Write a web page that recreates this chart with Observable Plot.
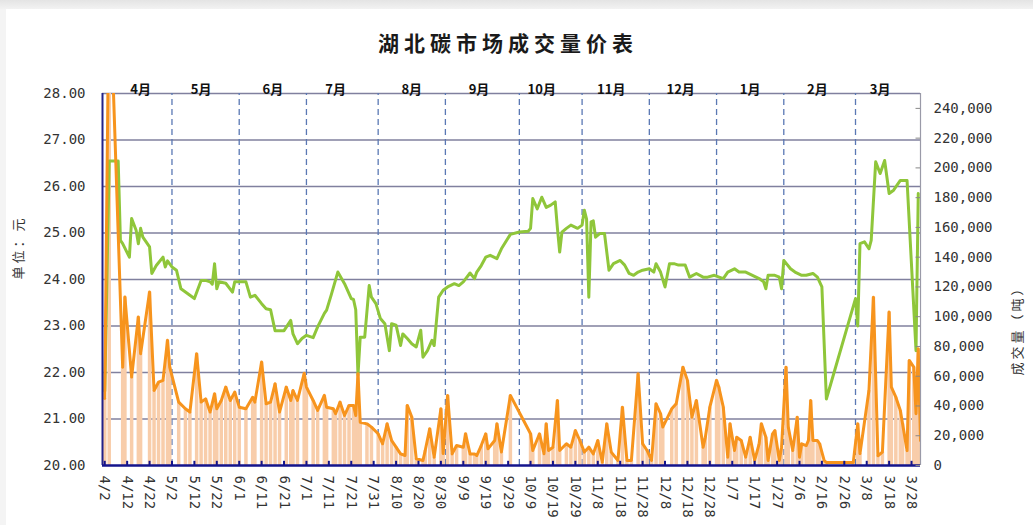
<!DOCTYPE html>
<html>
<head>
<meta charset="utf-8">
<script src="https://cdn.jsdelivr.net/npm/d3@7"></script>
<script src="https://cdn.jsdelivr.net/npm/@observablehq/plot@0.6"></script>
<style>
  html, body { margin: 0; padding: 0; background: #fff; }
  #page { position: relative; width: 1033px; height: 525px; overflow: hidden; background: #fff; }
  #topbar { position: absolute; left: 0; top: 0; width: 1033px; height: 9px; background: linear-gradient(#e4e4e4, #f2f2f2); }
  #leftbar { position: absolute; left: 0; top: 9px; width: 6px; height: 516px; background: #f4f4f4; }
  #chart { position: absolute; left: 0; top: 0; }
  #title { position: absolute; left: 0; top: 27px; width: 1016px; text-align: center; line-height: 30px;
           font-family: "Noto Sans CJK SC", sans-serif; font-weight: 700; font-size: 21px; letter-spacing: 5px; color: #1a1a1a; }
</style>
</head>
<body>
<div id="page">
  <div id="topbar"></div>
  <div id="leftbar"></div>
  <div id="chart"></div>
  <div id="title">湖北碳市场成交量价表</div>
</div>
<script>
// Daily closing price (元) of Hubei carbon allowances
const priceDates = [
  "2014-04-02","2014-04-04","2014-04-08","2014-04-09","2014-04-10","2014-04-13","2014-04-14","2014-04-16","2014-04-17","2014-04-18",
  "2014-04-19","2014-04-22","2014-04-23","2014-04-25","2014-04-28","2014-04-29","2014-04-30","2014-05-02","2014-05-04","2014-05-06",
  "2014-05-08","2014-05-12","2014-05-15","2014-05-17","2014-05-19","2014-05-20","2014-05-21","2014-05-22","2014-05-23","2014-05-26",
  "2014-05-29","2014-05-30","2014-06-04","2014-06-06","2014-06-08","2014-06-11","2014-06-13","2014-06-15","2014-06-17","2014-06-21",
  "2014-06-24","2014-06-25","2014-06-27","2014-06-29","2014-07-01","2014-07-04","2014-07-06","2014-07-09","2014-07-10","2014-07-12",
  "2014-07-15","2014-07-18","2014-07-21","2014-07-22","2014-07-23","2014-07-24","2014-07-25","2014-07-27","2014-07-29","2014-07-30",
  "2014-08-01","2014-08-03","2014-08-05","2014-08-07","2014-08-08","2014-08-10","2014-08-12","2014-08-13","2014-08-15","2014-08-17",
  "2014-08-19","2014-08-21","2014-08-22","2014-08-24","2014-08-26","2014-08-27","2014-08-29","2014-08-31","2014-09-02","2014-09-05",
  "2014-09-07","2014-09-09","2014-09-12","2014-09-14","2014-09-15","2014-09-17","2014-09-19","2014-09-21","2014-09-24","2014-09-26",
  "2014-09-30","2014-10-04","2014-10-08","2014-10-09","2014-10-10","2014-10-12","2014-10-14","2014-10-16","2014-10-18","2014-10-20",
  "2014-10-21","2014-10-22","2014-10-23","2014-10-25","2014-10-27","2014-10-30","2014-11-01","2014-11-02","2014-11-03","2014-11-04",
  "2014-11-05","2014-11-06","2014-11-07","2014-11-09","2014-11-11","2014-11-13","2014-11-15","2014-11-18","2014-11-20","2014-11-22",
  "2014-11-24","2014-11-26","2014-11-28","2014-12-01","2014-12-03","2014-12-04","2014-12-06","2014-12-08","2014-12-10","2014-12-12",
  "2014-12-14","2014-12-17","2014-12-19","2014-12-22","2014-12-25","2014-12-27","2014-12-30","2015-01-03","2015-01-05","2015-01-08",
  "2015-01-10","2015-01-13","2015-01-16","2015-01-19","2015-01-21","2015-01-22","2015-01-23","2015-01-26","2015-01-28","2015-01-29",
  "2015-01-30","2015-02-02","2015-02-04","2015-02-07","2015-02-09","2015-02-12","2015-02-14","2015-02-16","2015-02-18","2015-03-03",
  "2015-03-04","2015-03-05","2015-03-07","2015-03-09","2015-03-10","2015-03-12","2015-03-14","2015-03-16","2015-03-18","2015-03-20",
  "2015-03-23","2015-03-26","2015-03-30","2015-03-31"
];
const prices = [
  21.60,26.55,26.55,24.84,24.77,24.48,25.31,25.06,24.77,25.10,
  24.91,24.70,24.13,24.30,24.48,24.27,24.40,24.27,24.20,23.80,
  23.73,23.59,23.98,23.98,23.95,23.90,24.34,23.80,23.95,23.92,
  23.73,23.95,23.95,23.62,23.66,23.48,23.37,23.35,22.90,22.90,
  23.12,22.83,22.62,22.73,22.80,22.75,22.98,23.27,23.34,23.66,
  24.16,23.91,23.59,23.57,23.35,21.95,22.76,22.76,23.87,23.62,
  23.48,23.16,23.05,22.47,23.05,23.02,22.58,22.83,22.73,22.62,
  22.55,22.91,22.33,22.47,22.69,22.58,23.62,23.77,23.84,23.91,
  23.87,23.95,24.14,24.02,24.16,24.30,24.48,24.52,24.45,24.66,
  24.97,25.02,25.04,25.10,25.74,25.52,25.77,25.55,25.60,25.67,
  25.10,24.59,25.02,25.10,25.17,25.10,25.17,25.49,25.30,23.62,
  25.24,25.26,24.91,24.99,24.99,24.20,24.34,24.41,24.31,24.13,
  24.09,24.16,24.20,24.23,24.16,24.34,24.16,23.84,24.34,24.34,
  24.31,24.31,24.05,24.13,24.05,24.05,24.09,24.02,24.16,24.23,
  24.16,24.16,24.09,24.02,23.95,23.80,24.09,24.09,24.05,23.80,
  24.41,24.23,24.16,24.09,24.09,24.13,24.05,23.84,21.43,23.59,
  23.00,24.77,24.81,24.66,24.84,26.53,26.28,26.56,25.85,25.92,
  26.13,26.13,22.47,25.85
];

// Daily traded volume (吨)
const volumeDates = [
  "2014-04-02","2014-04-04","2014-04-10","2014-04-11","2014-04-14","2014-04-17","2014-04-18","2014-04-22","2014-04-24","2014-04-26",
  "2014-04-28","2014-04-30","2014-05-01","2014-05-05","2014-05-08","2014-05-10","2014-05-13","2014-05-15","2014-05-17","2014-05-19",
  "2014-05-21","2014-05-22","2014-05-24","2014-05-26","2014-05-28","2014-05-30","2014-06-01","2014-06-04","2014-06-07","2014-06-08",
  "2014-06-11","2014-06-13","2014-06-15","2014-06-17","2014-06-19","2014-06-22","2014-06-24","2014-06-25","2014-06-27","2014-06-30",
  "2014-07-01","2014-07-04","2014-07-06","2014-07-09","2014-07-10","2014-07-13","2014-07-14","2014-07-16","2014-07-18","2014-07-20",
  "2014-07-22","2014-07-23","2014-07-24","2014-07-25","2014-07-28","2014-07-30","2014-08-02","2014-08-04","2014-08-06","2014-08-08",
  "2014-08-10","2014-08-12","2014-08-14","2014-08-15","2014-08-17","2014-08-19","2014-08-22","2014-08-23","2014-08-25","2014-08-27",
  "2014-08-30","2014-08-31","2014-09-02","2014-09-04","2014-09-06","2014-09-09","2014-09-10","2014-09-12","2014-09-14","2014-09-15",
  "2014-09-17","2014-09-19","2014-09-20","2014-09-23","2014-09-24","2014-09-26","2014-09-30","2014-10-09","2014-10-10","2014-10-13",
  "2014-10-15","2014-10-16","2014-10-17","2014-10-19","2014-10-21","2014-10-22","2014-10-25","2014-10-27","2014-10-29","2014-10-31",
  "2014-11-02","2014-11-04","2014-11-06","2014-11-08","2014-11-10","2014-11-12","2014-11-14","2014-11-17","2014-11-19","2014-11-21",
  "2014-11-23","2014-11-26","2014-11-28","2014-11-30","2014-12-02","2014-12-04","2014-12-06","2014-12-07","2014-12-11","2014-12-13",
  "2014-12-16","2014-12-18","2014-12-20","2014-12-22","2014-12-25","2014-12-26","2014-12-28","2014-12-31","2015-01-01","2015-01-03",
  "2015-01-05","2015-01-06","2015-01-08","2015-01-09","2015-01-11","2015-01-13","2015-01-15","2015-01-17","2015-01-19","2015-01-20",
  "2015-01-22","2015-01-23","2015-01-25","2015-01-26","2015-01-28","2015-01-29","2015-01-31","2015-02-01","2015-02-03","2015-02-05",
  "2015-02-06","2015-02-07","2015-02-09","2015-02-10","2015-02-11","2015-02-12","2015-02-14","2015-02-15","2015-02-17","2015-02-18",
  "2015-03-02","2015-03-04","2015-03-05","2015-03-09","2015-03-11","2015-03-13","2015-03-15","2015-03-18","2015-03-19","2015-03-21",
  "2015-03-23","2015-03-24","2015-03-26","2015-03-27","2015-03-29","2015-03-30","2015-03-31","2015-04-01"
];
const volumes = [
  45000,336000,66100,113200,59400,99800,75100,116600,50400,56000,
  57200,84100,66100,42600,38100,35900,75100,42600,44800,35900,
  48200,38100,43700,52700,43700,49300,39200,38100,45900,42600,
  69500,41500,42600,54900,35900,52700,43700,50400,43700,62000,
  52700,43700,37000,47100,39200,38100,34800,42600,33600,40400,
  40400,33600,61700,29100,28000,25800,21300,14600,28000,16800,
  12300,7800,6700,40400,32500,4500,3400,10100,24700,5600,
  38100,8000,47100,7800,13400,12300,21300,7800,7800,6700,
  13400,21300,11200,16800,28000,9000,47100,21300,10100,21300,
  7900,28000,10100,12300,43700,10100,14600,12300,23500,16800,
  9000,12300,7800,16800,2200,28000,9000,3400,39200,3400,
  3400,61700,14600,10100,3400,41500,34800,25800,38100,41500,
  66100,57200,32500,43700,12300,19000,39200,57200,52700,39200,
  5600,28000,10100,19000,16800,5600,19000,3400,14600,28000,
  19000,3400,21300,23500,3400,12300,66100,25800,10100,32500,
  5600,14600,13400,16800,43700,16800,16800,14600,3400,2000,
  2000,28000,8000,50400,113000,6500,9000,103100,52700,45900,
  37000,28000,10000,70600,66100,34800,78500,16800
];

// Axes, month separators and month names
const priceTicks = [20, 21, 22, 23, 24, 25, 26, 27, 28];
const volumeTicks = [0, 20000, 40000, 60000, 80000, 100000, 120000, 140000, 160000, 180000, 200000, 220000, 240000];
const volumeMax = 250000;
const firstTick = "2014-04-02";
const tickCount = 37;
const monthLines = ["2014-05-02","2014-06-01","2014-07-01","2014-08-02","2014-09-01","2014-10-04",
                    "2014-11-01","2014-12-01","2014-12-31","2015-01-30","2015-03-03"];
const monthNames = ["4月","5月","6月","7月","8月","9月","10月","11月","12月","1月","2月","3月"];
const monthNameDates = ["2014-04-18","2014-05-15","2014-06-16","2014-07-14","2014-08-17","2014-09-16",
                        "2014-10-14","2014-11-14","2014-12-15","2015-01-15","2015-02-14","2015-03-14"];
const xDomain = ["2014-04-01", "2015-04-01"];

const parse = d3.utcParse("%Y-%m-%d");
// volume is drawn on the price scale: 0 → 20.00, volumeMax → 28.00
const toY = v => 20 + v / volumeMax * 8;
const fromY = y => (y - 20) / 8 * volumeMax;

const priceData = priceDates.map((d, i) => ({date: parse(d), price: prices[i]}));
const volumeData = volumeDates.map((d, i) => ({date: parse(d), volume: volumes[i]}));
const monthData = monthNames.map((name, i) => ({name, date: parse(monthNameDates[i])}));
const ticks = d3.range(tickCount).map(i => d3.utcDay.offset(parse(firstTick), i * 10));
const [xStart, xEnd] = xDomain.map(parse);

const mono = "'DejaVu Sans Mono', 'Liberation Mono', monospace";
const cjk = "'Noto Sans CJK SC', sans-serif";

const chart = Plot.plot({
  width: 1033,
  height: 525,
  marginLeft: 102,
  marginRight: 113,
  marginTop: 93,
  marginBottom: 60,
  style: {fontFamily: mono, fontSize: "14px", color: "#333", background: "transparent", overflow: "visible"},
  x: {type: "utc", domain: [xStart, xEnd], axis: null},
  y: {domain: [20, 28], axis: null},
  marks: [
    Plot.ruleY(priceTicks.slice(1), {stroke: "#80809e", strokeWidth: 1.5}),
    Plot.ruleX(monthLines.map(parse), {y1: 20, y2: 28, stroke: "#5a78b4", strokeWidth: 1.3, strokeDasharray: "6,4"}),
    Plot.ruleX(volumeData, {x: "date", y1: 20, y2: d => toY(d.volume), stroke: "#f8cdaa", strokeWidth: 3.5, clip: true}),
    Plot.line(priceData, {x: "date", y: "price", stroke: "#8fc63a", strokeWidth: 3, clip: true}),
    Plot.line(volumeData, {x: "date", y: d => toY(d.volume), stroke: "#f7941d", strokeWidth: 3, clip: true}),
    Plot.ruleX([xEnd], {y1: 20, y2: 28, stroke: "#9a9aa8", strokeWidth: 1.2}),
    Plot.ruleX([xStart], {y1: 20, y2: 28, stroke: "#22228a", strokeWidth: 2}),
    Plot.ruleY([20], {stroke: "#14148c", strokeWidth: 2.5}),
    Plot.ruleX(ticks, {y1: 20, y2: 20.09, stroke: "#14148c", strokeWidth: 2}),
    Plot.ruleY(volumeTicks.map(toY), {x1: d3.utcDay.offset(xEnd, -2), x2: xEnd, stroke: "#888"}),
    Plot.axisY(priceTicks, {anchor: "left", label: null, tickSize: 0, tickPadding: 17, tickFormat: d3.format(".2f"),
                            fontSize: 14, fontFamily: mono, fill: "#333"}),
    Plot.axisY(volumeTicks.map(toY), {anchor: "right", label: null, tickSize: 0, tickPadding: 13,
                            tickFormat: d => d3.format(",")(Math.round(fromY(d))),
                            fontSize: 14, fontFamily: mono, fill: "#333"}),
    Plot.axisX(ticks, {anchor: "bottom", label: null, tickSize: 0, tickPadding: 10, tickRotate: 90,
                       tickFormat: d => `${d.getUTCMonth() + 1}/${d.getUTCDate()}`,
                       fontSize: 14, fontFamily: mono, fill: "#333"}),
    Plot.text(monthData, {x: "date", text: "name", frameAnchor: "top", dy: -9,
                          fontFamily: cjk, fontWeight: "bold", fontSize: 13, fill: "#111"}),
    Plot.text(["单位：元"], {frameAnchor: "left", dx: -84, rotate: -90, fontFamily: cjk, fontSize: 13, fill: "#333"}),
    Plot.text(["成交量（吨）"], {frameAnchor: "right", dx: 97, rotate: -90, fontFamily: cjk, fontSize: 13, fill: "#333"})
  ]
});

d3.select(chart).selectAll("text")
  .filter(function () { return this.textContent === "单位：元" || this.textContent === "成交量（吨）"; })
  .attr("letter-spacing", 3);

document.getElementById("chart").appendChild(chart);
</script>
</body>
</html>
